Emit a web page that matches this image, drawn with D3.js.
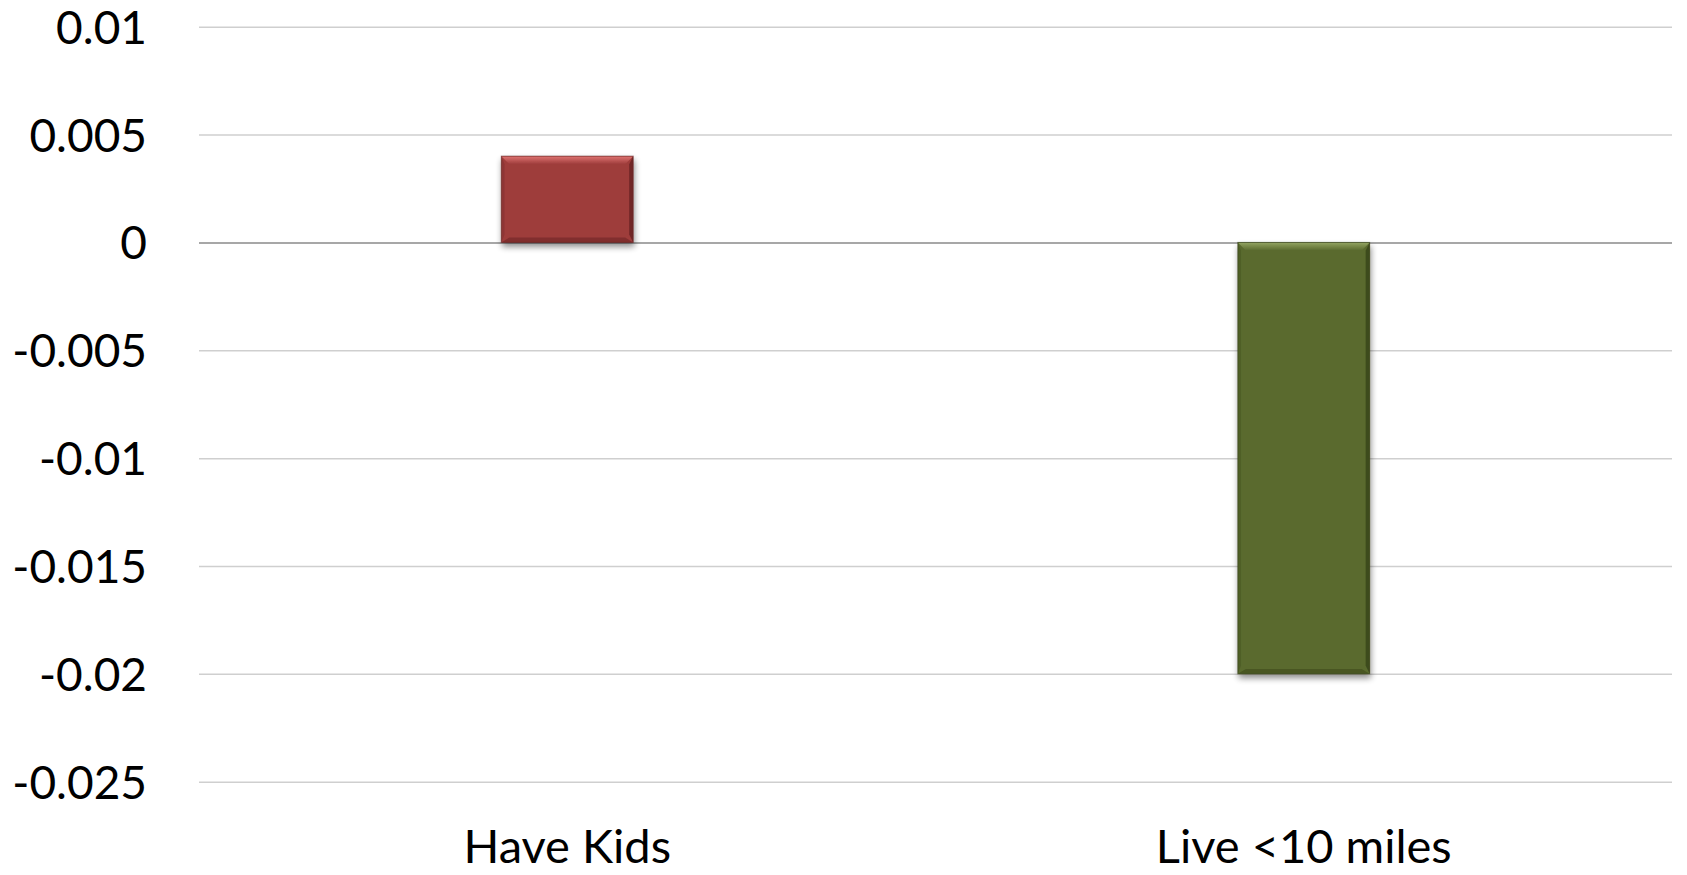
<!DOCTYPE html>
<html>
<head>
<meta charset="utf-8">
<script src="https://cdn.jsdelivr.net/npm/d3@7"></script>
<style>
  html, body { margin: 0; padding: 0; background: #fff; }
  svg { display: block; }
</style>
</head>
<body>
<svg id="chart" width="1687" height="875"></svg>
<script>
// Chart data
const categories = ["Have Kids", "Live <10 miles"];
const values = [0.004, -0.02];
const barColors = ["#9e3c3b", "#5a6b2e"];
const bevelLight = ["#e07572", "#93a562"];
const bevelDark = ["#5e1f1f", "#323d18"];
const yTicks = [0.01, 0.005, 0, -0.005, -0.01, -0.015, -0.02, -0.025];
const yTickLabels = ["0.01", "0.005", "0", "-0.005", "-0.01", "-0.015", "-0.02", "-0.025"];

const W = 1687, H = 875;
const margin = { top: 26.7, right: 15, bottom: 93.3, left: 199 };

const svg = d3.select("#chart");

const x = d3.scaleBand()
  .domain(categories)
  .range([margin.left, W - margin.right])
  .paddingInner(0.821)
  .paddingOuter(0.4105);

const y = d3.scaleLinear()
  .domain([-0.025, 0.01])
  .range([H - margin.bottom, margin.top]);

const defs = svg.append("defs");
const shadow = defs.append("filter").attr("id", "barShadow")
  .attr("x", "-20%").attr("y", "-20%").attr("width", "140%").attr("height", "140%");
shadow.append("feGaussianBlur").attr("in", "SourceAlpha").attr("stdDeviation", 3).attr("result", "blur");
shadow.append("feOffset").attr("in", "blur").attr("dx", 1).attr("dy", 4).attr("result", "off");
shadow.append("feComponentTransfer").attr("in", "off").attr("result", "sh")
  .append("feFuncA").attr("type", "linear").attr("slope", 0.45);
const merge = shadow.append("feMerge");
merge.append("feMergeNode").attr("in", "sh");
merge.append("feMergeNode").attr("in", "SourceGraphic");

// Gradient for the top bevel highlight
barColors.forEach((c, i) => {
  const g = defs.append("linearGradient").attr("id", "topBevel" + i)
    .attr("x1", 0).attr("y1", 0).attr("x2", 0).attr("y2", 1);
  g.append("stop").attr("offset", "0%").attr("stop-color", bevelLight[i]);
  g.append("stop").attr("offset", "100%").attr("stop-color", c);
});

// Gridlines
const grid = svg.append("g")
  .attr("transform", `translate(${margin.left},0)`)
  .call(d3.axisLeft(y)
    .tickValues(yTicks)
    .tickSize(-(W - margin.left - margin.right))
    .tickFormat(""));
grid.select(".domain").remove();
grid.selectAll(".tick line")
  .attr("stroke", d => d === 0 ? "#8a8a8a" : "#cfcfcf")
  .attr("stroke-width", 1.5);

// Y tick labels
const yAxis = svg.append("g")
  .attr("transform", `translate(${margin.left - 52},0)`)
  .call(d3.axisLeft(y)
    .tickValues(yTicks)
    .tickSize(0)
    .tickPadding(0)
    .tickFormat((d, i) => yTickLabels[i]));
yAxis.select(".domain").remove();
yAxis.selectAll("text")
  .attr("font-family", "Lato, 'Open Sans', sans-serif")
  .attr("font-size", 46)
  .attr("fill", "#000")
  .attr("dy", "0.36em");

// Bars with bevelled edges
const bev = 8;
const bars = svg.append("g").selectAll("g.bar")
  .data(values.map((v, i) => ({ cat: categories[i], v, i })))
  .join("g")
  .attr("class", "bar")
  .attr("filter", "url(#barShadow)");

bars.each(function(d) {
  const g = d3.select(this);
  const x0 = x(d.cat), x1 = x0 + x.bandwidth();
  const yTop = Math.min(y(d.v), y(0)), yBot = Math.max(y(d.v), y(0));
  g.append("rect")
    .attr("x", x0).attr("y", yTop)
    .attr("width", x1 - x0).attr("height", yBot - yTop)
    .attr("fill", barColors[d.i]);
  // top bevel
  g.append("path")
    .attr("d", `M${x0},${yTop}L${x1},${yTop}L${x1 - bev},${yTop + bev}L${x0 + bev},${yTop + bev}Z`)
    .attr("fill", `url(#topBevel${d.i})`);
  // right bevel
  g.append("path")
    .attr("d", `M${x1},${yTop}L${x1},${yBot}L${x1 - bev * 0.5},${yBot - bev}L${x1 - bev * 0.5},${yTop + bev}Z`)
    .attr("fill", bevelDark[d.i]).attr("opacity", 0.7);
  // bottom bevel
  g.append("path")
    .attr("d", `M${x0},${yBot}L${x1},${yBot}L${x1 - bev},${yBot - bev * 0.6}L${x0 + bev},${yBot - bev * 0.6}Z`)
    .attr("fill", bevelDark[d.i]).attr("opacity", 0.45);
  // left bevel
  g.append("path")
    .attr("d", `M${x0},${yTop}L${x0 + bev * 0.4},${yTop + bev}L${x0 + bev * 0.4},${yBot - bev}L${x0},${yBot}Z`)
    .attr("fill", bevelDark[d.i]).attr("opacity", 0.25);
  g.append("rect")
    .attr("x", x0).attr("y", yTop)
    .attr("width", x1 - x0).attr("height", yBot - yTop)
    .attr("fill", "none").attr("stroke", bevelDark[d.i]).attr("stroke-width", 1).attr("opacity", 0.6);
});

// Category labels
svg.append("g").selectAll("text")
  .data(categories)
  .join("text")
  .attr("x", d => x(d) + x.bandwidth() / 2)
  .attr("y", 863)
  .attr("text-anchor", "middle")
  .attr("font-family", "Lato, 'Open Sans', sans-serif")
  .attr("font-size", 47)
  .attr("fill", "#000")
  .text(d => d);
</script>
</body>
</html>
